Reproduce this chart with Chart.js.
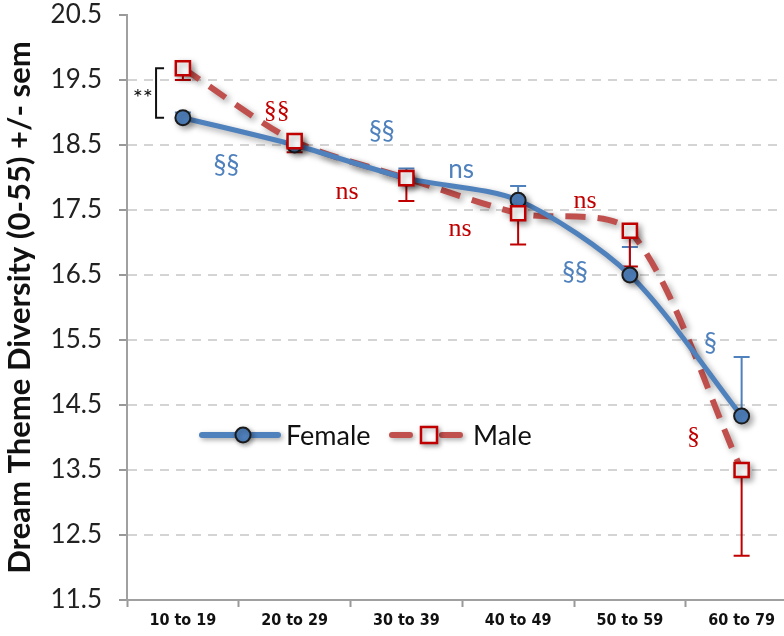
<!DOCTYPE html>
<html>
<head>
<meta charset="utf-8">
<script src="https://cdn.jsdelivr.net/npm/chart.js@4"></script>
<style>
  html, body { margin: 0; padding: 0; background: #fff; overflow: hidden; }
  #wrap { width: 784px; height: 636px; overflow: hidden; }
</style>
</head>
<body>
<div id="wrap"><canvas id="c" width="810" height="636"></canvas></div>
<script>
// --- data ---
const ageGroups = ['10 to 19', '20 to 29', '30 to 39', '40 to 49', '50 to 59', '60 to 79'];
const female    = [18.92, 18.50, 17.99, 17.65, 16.50, 14.33];
const femaleSem = [0.08, 0.08, 0.15, 0.22, 0.43, 0.91];
const male      = [19.68, 18.56, 17.99, 17.45, 17.18, 13.50];
const maleSem   = [0.18, 0.17, 0.35, 0.48, 0.55, 1.32];
const yTicks    = [11.5, 12.5, 13.5, 14.5, 15.5, 16.5, 17.5, 18.5, 19.5, 20.5];

// significance labels: [text, category position, value, colour]
const notes = [
  ['§§', 0.39, 18.19, 'blue'],
  ['§§', 0.84, 19.02, 'red'],
  ['§§', 1.78, 18.70, 'blue'],
  ['ns', 2.49, 18.12, 'blue'],
  ['ns', 1.47, 17.78, 'red'],
  ['ns', 2.48, 17.21, 'red'],
  ['ns', 3.60, 17.64, 'red'],
  ['§§', 3.51, 16.53, 'blue'],
  ['§',  4.72, 15.45, 'blue'],
  ['§',  4.57, 14.00, 'red']
];

const BLUE = '#4f81bd', RED_LINE = '#c0504d', RED = '#c00000';
const SANS = 'Lato, "Open Sans", sans-serif';

const shadowPlugin = {
  id: 'shadow',
  beforeDatasetDraw(chart) {
    const ctx = chart.ctx;
    ctx.save();
    ctx.shadowColor = 'rgba(0,0,0,0.35)';
    ctx.shadowBlur = 6;
    ctx.shadowOffsetX = 3;
    ctx.shadowOffsetY = 3;
  },
  afterDatasetDraw(chart) { chart.ctx.restore(); }
};

const errorBars = {
  id: 'errorBars',
  beforeDatasetsDraw(chart) {
    const ctx = chart.ctx, xs = chart.scales.x, ys = chart.scales.y;
    function bar(i, v, end) {
      const x = xs.getPixelForValue(i);
      const y0 = ys.getPixelForValue(v), y1 = ys.getPixelForValue(end);
      ctx.beginPath();
      ctx.moveTo(x, y0); ctx.lineTo(x, y1);
      ctx.moveTo(x - 8, y1); ctx.lineTo(x + 8, y1);
      ctx.stroke();
    }
    ctx.save();
    ctx.lineWidth = 2;
    ctx.strokeStyle = BLUE;
    female.forEach((v, i) => bar(i, v, v + femaleSem[i]));
    ctx.strokeStyle = RED;
    male.forEach((v, i) => bar(i, v, v - maleSem[i]));
    ctx.restore();
  }
};

const extras = {
  id: 'extras',
  afterDraw(chart) {
    const ctx = chart.ctx, xs = chart.scales.x, ys = chart.scales.y, a = chart.chartArea;
    ctx.save();
    // significance labels
    ctx.textAlign = 'center';
    ctx.textBaseline = 'middle';
    notes.forEach(n => {
      const blue = n[3] === 'blue';
      ctx.fillStyle = blue ? BLUE : RED;
      ctx.font = blue ? '26px ' + SANS : '26px "Liberation Serif", "DejaVu Serif", serif';
      ctx.fillText(n[0], xs.getPixelForValue(n[1]), ys.getPixelForValue(n[2]));
    });
    // bracket + **
    const bx = xs.getPixelForValue(-0.24);
    const t = ys.getPixelForValue(male[0]), b = ys.getPixelForValue(female[0]);
    ctx.strokeStyle = '#111';
    ctx.lineWidth = 2;
    ctx.beginPath();
    ctx.moveTo(bx + 8, t); ctx.lineTo(bx, t); ctx.lineTo(bx, b); ctx.lineTo(bx + 8, b);
    ctx.stroke();
    ctx.fillStyle = '#111';
    ctx.font = '24px ' + SANS;
    ctx.textAlign = 'right';
    ctx.fillText('**', bx - 3, (t + b) / 2 + 5);
    // legend
    const ly = a.top + 420, lx = a.left + 75;
    ctx.shadowColor = 'rgba(0,0,0,0.35)';
    ctx.shadowBlur = 5; ctx.shadowOffsetX = 2; ctx.shadowOffsetY = 2;
    ctx.lineCap = 'round';
    ctx.strokeStyle = BLUE; ctx.lineWidth = 6;
    ctx.beginPath(); ctx.moveTo(lx, ly); ctx.lineTo(lx + 76, ly); ctx.stroke();
    ctx.fillStyle = BLUE; ctx.strokeStyle = '#1a1a1a'; ctx.lineWidth = 2;
    ctx.beginPath(); ctx.arc(lx + 41, ly, 7.5, 0, Math.PI * 2); ctx.fill(); ctx.stroke();
    ctx.strokeStyle = RED_LINE; ctx.lineWidth = 6; ctx.setLineDash([18, 32]);
    ctx.beginPath(); ctx.moveTo(lx + 190, ly); ctx.lineTo(lx + 258, ly); ctx.stroke();
    ctx.setLineDash([]);
    ctx.fillStyle = '#fff'; ctx.strokeStyle = RED; ctx.lineWidth = 2.5;
    ctx.fillRect(lx + 219, ly - 8, 16, 16); ctx.strokeRect(lx + 219, ly - 8, 16, 16);
    ctx.shadowColor = 'transparent';
    ctx.fillStyle = '#111'; ctx.font = '27px ' + SANS; ctx.textAlign = 'left';
    ctx.fillText('Female', lx + 84, ly + 1);
    ctx.fillText('Male', lx + 271, ly + 1);
    ctx.restore();
  }
};

new Chart(document.getElementById('c'), {
  type: 'line',
  data: {
    labels: ageGroups,
    datasets: [
      { label: 'Male', data: male, order: 3, borderColor: RED_LINE, borderWidth: 6,
        borderDash: [20, 12], pointRadius: 0, tension: 0.28, fill: false },
      { label: 'Female', data: female, order: 2, borderColor: BLUE, borderWidth: 5,
        pointRadius: 7.5, pointBackgroundColor: BLUE, pointBorderColor: '#1a1a1a',
        pointBorderWidth: 2, tension: 0.28, fill: false },
      { label: 'Male points', data: male, order: 1, showLine: false,
        pointStyle: 'rect', pointRadius: 10, pointBackgroundColor: '#fff',
        pointBorderColor: RED, pointBorderWidth: 2.5 }
    ]
  },
  options: {
    responsive: false,
    animation: false,
    layout: { padding: { top: 15, right: 9, left: 0, bottom: 0 } },
    plugins: { legend: { display: false }, tooltip: { enabled: false } },
    scales: {
      x: {
        offset: true,
        grid: { offset: true, drawOnChartArea: false, tickLength: 7, tickColor: '#999', tickWidth: 2 },
        border: { color: '#a0a0a0', width: 2 },
        ticks: { color: '#111', padding: 4, maxRotation: 0,
          font: { family: '"Liberation Sans Narrow", "DejaVu Sans Condensed", sans-serif', size: 16, weight: 'bold' } },
        afterFit(s) { s.height = 36; s.paddingLeft = 0; s.paddingRight = 0; }
      },
      y: {
        min: 11.5, max: 20.5,
        afterBuildTicks(s) { s.ticks = yTicks.map(v => ({ value: v })); },
        grid: { color: c => c.tick && c.tick.value === 20.5 ? 'transparent' : '#d4d4d4',
          lineWidth: 2, tickLength: 8, tickColor: '#999', tickWidth: 2 },
        border: { color: '#a0a0a0', width: 2, dash: [9, 7] },
        ticks: { color: '#222', padding: 17, callback: v => v.toFixed(1),
          font: { family: SANS, size: 26 } },
        title: { display: true, text: 'Dream Theme Diversity (0-55) +/- sem', color: '#111',
          font: { family: SANS, size: 31, weight: 'bold' }, padding: { top: 1, bottom: 0 } },
        afterFit(s) { s.width = 127; s.paddingTop = 0; s.paddingBottom = 0; }
      }
    }
  },
  plugins: [shadowPlugin, errorBars, extras]
});
</script>
</body>
</html>
